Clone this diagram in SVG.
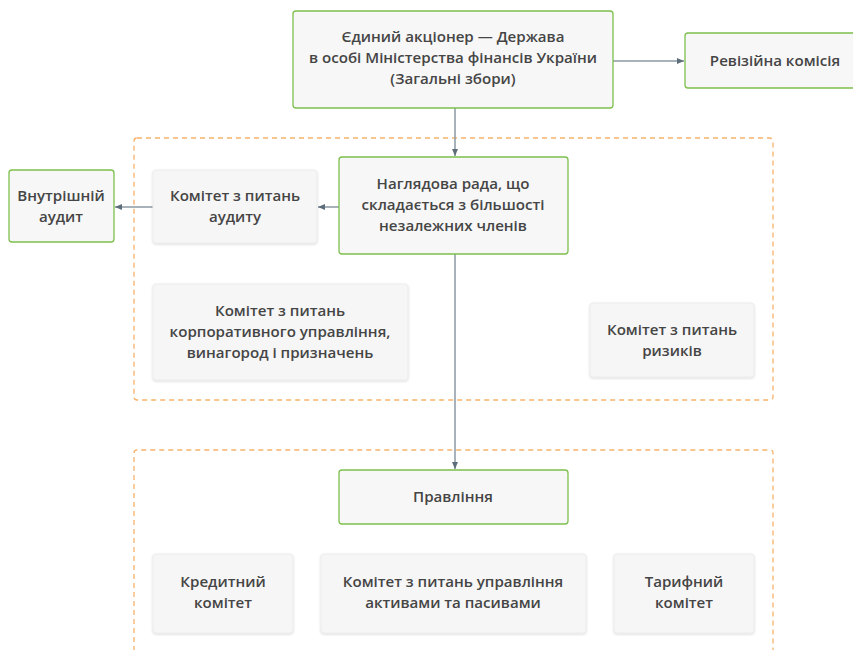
<svg xmlns="http://www.w3.org/2000/svg" width="853" height="650" viewBox="0 0 853 650">
<defs>
<style>
.g{fill:#f7f7f7;stroke:#7dc04e;stroke-width:1.3}
.c{fill:#f6f6f6;stroke:#ececec;stroke-width:1}
.t{font-family:"Open Sans","Noto Sans",sans-serif;font-size:15.1px;font-weight:600;fill:#454545;text-anchor:middle}
.d{fill:none;stroke:#f6b26b;stroke-width:1.3;stroke-dasharray:5,4}
.e{fill:none;stroke:#8a98a4;stroke-width:1.5}
</style>
<filter id="sh" x="-10%" y="-10%" width="120%" height="130%">
<feDropShadow dx="0" dy="1" stdDeviation="1.2" flood-color="#000" flood-opacity="0.15"/>
</filter>
<marker id="ar" markerWidth="8" markerHeight="8" refX="7" refY="4" orient="auto" markerUnits="userSpaceOnUse">
<path d="M0,1 L7,4 L0,7 Z" fill="#5d6d7a"/>
</marker>
</defs>
<rect class="d" x="134" y="138" width="639" height="262" rx="3"/>
<path class="d" d="M134,660 V453 Q134,450 137,450 H770 Q773,450 773,453 V660"/>
<g id="connectors">
<line class="e" x1="613" y1="61" x2="684" y2="61" marker-end="url(#ar)"/>
<line class="e" x1="455" y1="108" x2="455" y2="156" marker-end="url(#ar)"/>
<line class="e" x1="339" y1="207" x2="318" y2="207" marker-end="url(#ar)"/>
<line class="e" x1="153" y1="207" x2="115" y2="207" marker-end="url(#ar)"/>
<line class="e" x1="455" y1="254" x2="455" y2="469" marker-end="url(#ar)"/>
</g>
<g id="shareholder">
<rect class="g" x="293" y="11" width="320" height="97" rx="3"/>
<text class="t" x="453" y="42">Єдиний акціонер — Держава</text>
<text class="t" x="453" y="63">в особі Міністерства фінансів України</text>
<text class="t" x="453" y="84">(Загальні збори)</text>
</g>
<g id="audit-commission">
<rect class="g" x="685" y="33" width="175" height="55" rx="3"/>
<text class="t" x="775" y="66">Ревізійна комісія</text>
</g>
<g id="supervisory-board">
<rect class="g" x="339" y="157" width="229" height="97" rx="3"/>
<text class="t" x="453" y="189">Наглядова рада, що</text>
<text class="t" x="453" y="210">складається з більшості</text>
<text class="t" x="453" y="231">незалежних членів</text>
</g>
<g id="audit-committee">
<rect class="c" x="153" y="170" width="164" height="73" rx="3" filter="url(#sh)"/>
<text class="t" x="235" y="201">Комітет з питань</text>
<text class="t" x="235" y="222">аудиту</text>
</g>
<g id="internal-audit">
<rect class="g" x="9" y="170" width="105" height="72" rx="3"/>
<text class="t" x="61" y="201">Внутрішній</text>
<text class="t" x="61" y="222">аудит</text>
</g>
<g id="governance-committee">
<rect class="c" x="153" y="284" width="255" height="96" rx="3" filter="url(#sh)"/>
<text class="t" x="280" y="316">Комітет з питань</text>
<text class="t" x="280" y="337">корпоративного управління,</text>
<text class="t" x="280" y="358">винагород і призначень</text>
</g>
<g id="risk-committee">
<rect class="c" x="590" y="303" width="164" height="74" rx="3" filter="url(#sh)"/>
<text class="t" x="672" y="335">Комітет з питань</text>
<text class="t" x="672" y="356">ризиків</text>
</g>
<g id="board">
<rect class="g" x="339" y="470" width="229" height="54" rx="3"/>
<text class="t" x="453" y="502">Правління</text>
</g>
<g id="credit-committee">
<rect class="c" x="153" y="554" width="140" height="79" rx="3" filter="url(#sh)"/>
<text class="t" x="223" y="587">Кредитний</text>
<text class="t" x="223" y="608">комітет</text>
</g>
<g id="alco">
<rect class="c" x="321" y="554" width="265" height="79" rx="3" filter="url(#sh)"/>
<text class="t" x="453" y="587">Комітет з питань управління</text>
<text class="t" x="453" y="608">активами та пасивами</text>
</g>
<g id="tariff-committee">
<rect class="c" x="614" y="554" width="140" height="79" rx="3" filter="url(#sh)"/>
<text class="t" x="684" y="587">Тарифний</text>
<text class="t" x="684" y="608">комітет</text>
</g>
</svg>
